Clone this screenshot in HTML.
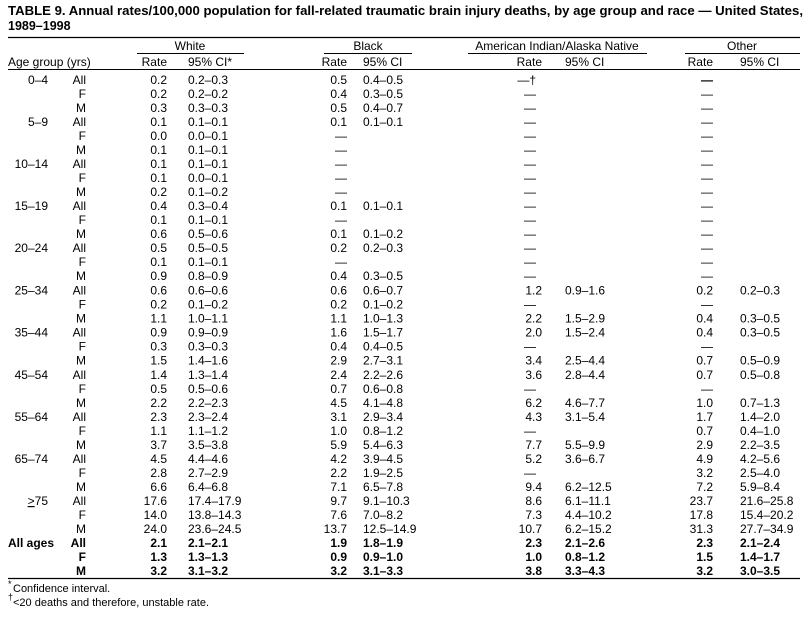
<!DOCTYPE html>
<html><head><meta charset="utf-8"><style>
html,body{margin:0;padding:0;background:#fff;width:811px;height:620px;overflow:hidden}
svg{display:block}
text{font-family:"Liberation Sans",Arial,sans-serif;font-size:12px;fill:#000}
.e{text-anchor:end}.m{text-anchor:middle}.b{font-weight:bold}
.a{text-anchor:end}
</style></head><body>
<svg width="811" height="620" viewBox="0 0 811 620">
<text x="8" y="15" class="b" style="font-size:12.5px" textLength="795" lengthAdjust="spacingAndGlyphs">TABLE 9. Annual rates/100,000 population for fall-related traumatic brain injury deaths, by age group and race — United States,</text>
<text x="8" y="30" class="b" style="font-size:12.5px">1989–1998</text>
<line x1="8" y1="37.5" x2="800" y2="37.5" stroke="#000" stroke-width="1.2"/>
<text x="190" y="50" class="m">White</text>
<text x="368" y="50" class="m">Black</text>
<text x="557" y="50" class="m">American Indian/Alaska Native</text>
<text x="742" y="50" class="m">Other</text>
<g stroke="#000" stroke-width="1"><line x1="137" y1="53.5" x2="244" y2="53.5"/><line x1="324" y1="53.5" x2="412" y2="53.5"/><line x1="468" y1="53.5" x2="647" y2="53.5"/><line x1="685" y1="53.5" x2="800" y2="53.5"/></g>
<text x="8" y="66">Age group (yrs)</text>
<text x="167" y="66" class="e">Rate</text><text x="188" y="66">95% CI*</text>
<text x="347" y="66" class="e">Rate</text><text x="363" y="66">95% CI</text>
<text x="542" y="66" class="e">Rate</text><text x="565" y="66">95% CI</text>
<text x="713" y="66" class="e">Rate</text><text x="740" y="66">95% CI</text>
<line x1="8" y1="69.5" x2="800" y2="69.5" stroke="#000" stroke-width="1"/>

<g transform="translate(0,84)"><text x="48" class="e">0–4</text><text x="86" class="e">All</text><text x="167" class="e">0.2</text><text x="188">0.2–0.3</text><text x="347" class="e">0.5</text><text x="363">0.4–0.5</text><text x="536" class="e">—†</text><text x="713" class="e b">—</text></g>
<g transform="translate(0,98)"><text x="86" class="e">F</text><text x="167" class="e">0.2</text><text x="188">0.2–0.2</text><text x="347" class="e">0.4</text><text x="363">0.3–0.5</text><text x="536" class="e">—</text><text x="713" class="e">—</text></g>
<g transform="translate(0,112)"><text x="86" class="e">M</text><text x="167" class="e">0.3</text><text x="188">0.3–0.3</text><text x="347" class="e">0.5</text><text x="363">0.4–0.7</text><text x="536" class="e">—</text><text x="713" class="e">—</text></g>
<g transform="translate(0,126)"><text x="48" class="e">5–9</text><text x="86" class="e">All</text><text x="167" class="e">0.1</text><text x="188">0.1–0.1</text><text x="347" class="e">0.1</text><text x="363">0.1–0.1</text><text x="536" class="e">—</text><text x="713" class="e">—</text></g>
<g transform="translate(0,140)"><text x="86" class="e">F</text><text x="167" class="e">0.0</text><text x="188">0.0–0.1</text><text x="347" class="e">—</text><text x="536" class="e">—</text><text x="713" class="e">—</text></g>
<g transform="translate(0,154)"><text x="86" class="e">M</text><text x="167" class="e">0.1</text><text x="188">0.1–0.1</text><text x="347" class="e">—</text><text x="536" class="e">—</text><text x="713" class="e">—</text></g>
<g transform="translate(0,168)"><text x="48" class="e">10–14</text><text x="86" class="e">All</text><text x="167" class="e">0.1</text><text x="188">0.1–0.1</text><text x="347" class="e">—</text><text x="536" class="e">—</text><text x="713" class="e">—</text></g>
<g transform="translate(0,182)"><text x="86" class="e">F</text><text x="167" class="e">0.1</text><text x="188">0.0–0.1</text><text x="347" class="e">—</text><text x="536" class="e">—</text><text x="713" class="e">—</text></g>
<g transform="translate(0,196)"><text x="86" class="e">M</text><text x="167" class="e">0.2</text><text x="188">0.1–0.2</text><text x="347" class="e">—</text><text x="536" class="e">—</text><text x="713" class="e">—</text></g>
<g transform="translate(0,210)"><text x="48" class="e">15–19</text><text x="86" class="e">All</text><text x="167" class="e">0.4</text><text x="188">0.3–0.4</text><text x="347" class="e">0.1</text><text x="363">0.1–0.1</text><text x="536" class="e">—</text><text x="713" class="e">—</text></g>
<g transform="translate(0,224)"><text x="86" class="e">F</text><text x="167" class="e">0.1</text><text x="188">0.1–0.1</text><text x="347" class="e">—</text><text x="536" class="e">—</text><text x="713" class="e">—</text></g>
<g transform="translate(0,238)"><text x="86" class="e">M</text><text x="167" class="e">0.6</text><text x="188">0.5–0.6</text><text x="347" class="e">0.1</text><text x="363">0.1–0.2</text><text x="536" class="e">—</text><text x="713" class="e">—</text></g>
<g transform="translate(0,252)"><text x="48" class="e">20–24</text><text x="86" class="e">All</text><text x="167" class="e">0.5</text><text x="188">0.5–0.5</text><text x="347" class="e">0.2</text><text x="363">0.2–0.3</text><text x="536" class="e">—</text><text x="713" class="e">—</text></g>
<g transform="translate(0,266)"><text x="86" class="e">F</text><text x="167" class="e">0.1</text><text x="188">0.1–0.1</text><text x="347" class="e">—</text><text x="536" class="e">—</text><text x="713" class="e">—</text></g>
<g transform="translate(0,280)"><text x="86" class="e">M</text><text x="167" class="e">0.9</text><text x="188">0.8–0.9</text><text x="347" class="e">0.4</text><text x="363">0.3–0.5</text><text x="536" class="e">—</text><text x="713" class="e">—</text></g>
<g transform="translate(0,294.5)"><text x="48" class="e">25–34</text><text x="86" class="e">All</text><text x="167" class="e">0.6</text><text x="188">0.6–0.6</text><text x="347" class="e">0.6</text><text x="363">0.6–0.7</text><text x="542" class="e">1.2</text><text x="565">0.9–1.6</text><text x="713" class="e">0.2</text><text x="740">0.2–0.3</text></g>
<g transform="translate(0,308.5)"><text x="86" class="e">F</text><text x="167" class="e">0.2</text><text x="188">0.1–0.2</text><text x="347" class="e">0.2</text><text x="363">0.1–0.2</text><text x="536" class="e">—</text><text x="713" class="e">—</text></g>
<g transform="translate(0,322.5)"><text x="86" class="e">M</text><text x="167" class="e">1.1</text><text x="188">1.0–1.1</text><text x="347" class="e">1.1</text><text x="363">1.0–1.3</text><text x="542" class="e">2.2</text><text x="565">1.5–2.9</text><text x="713" class="e">0.4</text><text x="740">0.3–0.5</text></g>
<g transform="translate(0,336.5)"><text x="48" class="e">35–44</text><text x="86" class="e">All</text><text x="167" class="e">0.9</text><text x="188">0.9–0.9</text><text x="347" class="e">1.6</text><text x="363">1.5–1.7</text><text x="542" class="e">2.0</text><text x="565">1.5–2.4</text><text x="713" class="e">0.4</text><text x="740">0.3–0.5</text></g>
<g transform="translate(0,350.5)"><text x="86" class="e">F</text><text x="167" class="e">0.3</text><text x="188">0.3–0.3</text><text x="347" class="e">0.4</text><text x="363">0.4–0.5</text><text x="536" class="e">—</text><text x="713" class="e">—</text></g>
<g transform="translate(0,364.5)"><text x="86" class="e">M</text><text x="167" class="e">1.5</text><text x="188">1.4–1.6</text><text x="347" class="e">2.9</text><text x="363">2.7–3.1</text><text x="542" class="e">3.4</text><text x="565">2.5–4.4</text><text x="713" class="e">0.7</text><text x="740">0.5–0.9</text></g>
<g transform="translate(0,379)"><text x="48" class="e">45–54</text><text x="86" class="e">All</text><text x="167" class="e">1.4</text><text x="188">1.3–1.4</text><text x="347" class="e">2.4</text><text x="363">2.2–2.6</text><text x="542" class="e">3.6</text><text x="565">2.8–4.4</text><text x="713" class="e">0.7</text><text x="740">0.5–0.8</text></g>
<g transform="translate(0,393)"><text x="86" class="e">F</text><text x="167" class="e">0.5</text><text x="188">0.5–0.6</text><text x="347" class="e">0.7</text><text x="363">0.6–0.8</text><text x="536" class="e">—</text><text x="713" class="e">—</text></g>
<g transform="translate(0,407)"><text x="86" class="e">M</text><text x="167" class="e">2.2</text><text x="188">2.2–2.3</text><text x="347" class="e">4.5</text><text x="363">4.1–4.8</text><text x="542" class="e">6.2</text><text x="565">4.6–7.7</text><text x="713" class="e">1.0</text><text x="740">0.7–1.3</text></g>
<g transform="translate(0,421)"><text x="48" class="e">55–64</text><text x="86" class="e">All</text><text x="167" class="e">2.3</text><text x="188">2.3–2.4</text><text x="347" class="e">3.1</text><text x="363">2.9–3.4</text><text x="542" class="e">4.3</text><text x="565">3.1–5.4</text><text x="713" class="e">1.7</text><text x="740">1.4–2.0</text></g>
<g transform="translate(0,435)"><text x="86" class="e">F</text><text x="167" class="e">1.1</text><text x="188">1.1–1.2</text><text x="347" class="e">1.0</text><text x="363">0.8–1.2</text><text x="536" class="e">—</text><text x="713" class="e">0.7</text><text x="740">0.4–1.0</text></g>
<g transform="translate(0,449)"><text x="86" class="e">M</text><text x="167" class="e">3.7</text><text x="188">3.5–3.8</text><text x="347" class="e">5.9</text><text x="363">5.4–6.3</text><text x="542" class="e">7.7</text><text x="565">5.5–9.9</text><text x="713" class="e">2.9</text><text x="740">2.2–3.5</text></g>
<g transform="translate(0,463)"><text x="48" class="e">65–74</text><text x="86" class="e">All</text><text x="167" class="e">4.5</text><text x="188">4.4–4.6</text><text x="347" class="e">4.2</text><text x="363">3.9–4.5</text><text x="542" class="e">5.2</text><text x="565">3.6–6.7</text><text x="713" class="e">4.9</text><text x="740">4.2–5.6</text></g>
<g transform="translate(0,477)"><text x="86" class="e">F</text><text x="167" class="e">2.8</text><text x="188">2.7–2.9</text><text x="347" class="e">2.2</text><text x="363">1.9–2.5</text><text x="536" class="e">—</text><text x="713" class="e">3.2</text><text x="740">2.5–4.0</text></g>
<g transform="translate(0,491)"><text x="86" class="e">M</text><text x="167" class="e">6.6</text><text x="188">6.4–6.8</text><text x="347" class="e">7.1</text><text x="363">6.5–7.8</text><text x="542" class="e">9.4</text><text x="565">6.2–12.5</text><text x="713" class="e">7.2</text><text x="740">5.9–8.4</text></g>
<g transform="translate(0,505)"><text x="48" class="e"><tspan text-decoration="underline">&gt;</tspan>75</text><text x="86" class="e">All</text><text x="167" class="e">17.6</text><text x="188">17.4–17.9</text><text x="347" class="e">9.7</text><text x="363">9.1–10.3</text><text x="542" class="e">8.6</text><text x="565">6.1–11.1</text><text x="713" class="e">23.7</text><text x="740">21.6–25.8</text></g>
<g transform="translate(0,519)"><text x="86" class="e">F</text><text x="167" class="e">14.0</text><text x="188">13.8–14.3</text><text x="347" class="e">7.6</text><text x="363">7.0–8.2</text><text x="542" class="e">7.3</text><text x="565">4.4–10.2</text><text x="713" class="e">17.8</text><text x="740">15.4–20.2</text></g>
<g transform="translate(0,533)"><text x="86" class="e">M</text><text x="167" class="e">24.0</text><text x="188">23.6–24.5</text><text x="347" class="e">13.7</text><text x="363">12.5–14.9</text><text x="542" class="e">10.7</text><text x="565">6.2–15.2</text><text x="713" class="e">31.3</text><text x="740">27.7–34.9</text></g>
<g transform="translate(0,547)"><text x="8" class="b">All ages</text><text x="86" class="e b">All</text><text x="167" class="e b">2.1</text><text x="188" class="b">2.1–2.1</text><text x="347" class="e b">1.9</text><text x="363" class="b">1.8–1.9</text><text x="542" class="e b">2.3</text><text x="565" class="b">2.1–2.6</text><text x="713" class="e b">2.3</text><text x="740" class="b">2.1–2.4</text></g>
<g transform="translate(0,561)"><text x="86" class="e b">F</text><text x="167" class="e b">1.3</text><text x="188" class="b">1.3–1.3</text><text x="347" class="e b">0.9</text><text x="363" class="b">0.9–1.0</text><text x="542" class="e b">1.0</text><text x="565" class="b">0.8–1.2</text><text x="713" class="e b">1.5</text><text x="740" class="b">1.4–1.7</text></g>
<g transform="translate(0,575)"><text x="86" class="e b">M</text><text x="167" class="e b">3.2</text><text x="188" class="b">3.1–3.2</text><text x="347" class="e b">3.2</text><text x="363" class="b">3.1–3.3</text><text x="542" class="e b">3.8</text><text x="565" class="b">3.3–4.3</text><text x="713" class="e b">3.2</text><text x="740" class="b">3.0–3.5</text></g>
<line x1="8" y1="578.5" x2="800" y2="578.5" stroke="#000" stroke-width="1.2"/>
<text x="8" y="587" style="font-size:9px">*</text><text x="13" y="592" style="font-size:11px">Confidence interval.</text>
<text x="8" y="600" style="font-size:9px">†</text><text x="13" y="606" style="font-size:11px">&lt;20 deaths and therefore, unstable rate.</text>
</svg>
</body></html>
